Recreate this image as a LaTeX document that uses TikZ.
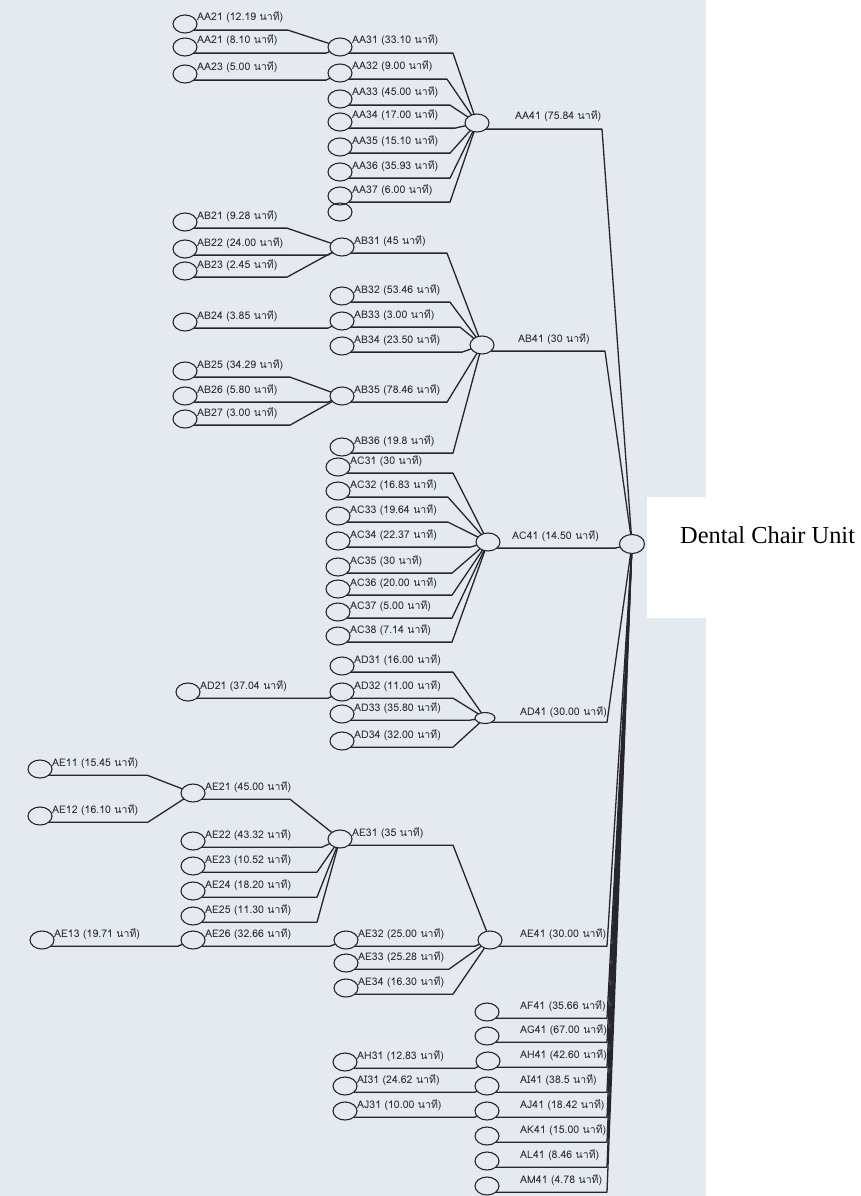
\documentclass[tikz,border=0pt]{standalone}
\usepackage{fontspec}
\setmainfont{Liberation Serif}
\newfontfamily\thaifont[Script=Thai]{Loma}
\usetikzlibrary{shapes.geometric,calc}
\definecolor{scan}{RGB}{229,233,240}
\definecolor{ink}{RGB}{38,38,44}

\tikzset{
  joint/.style={ellipse, draw=ink, line width=1.1pt, minimum width=24pt,
    minimum height=18pt, inner sep=0pt, outer sep=0pt},
  tag/.style={anchor=base west, inner sep=0pt, text=ink,
    font=\thaifont\fontsize{10.5}{11}\selectfont},
  link/.style={draw=ink, line width=1.3pt, line join=round},
}

% a sub-assembly: [caption offset], name, x, y, caption
\newcommand\jnode[5][12]{%
  \node[joint] (#2) at (#3,#4) {};
  \node[tag] (#2-t) at ({#3+#1},{#4-3}) {#5};}
% its connector: leaves the joint, runs under the caption to x = #2, then to the parent
\newcommand\jlink[3]{%
  \draw[link] let \p1=(#1.-35) in (\p1) -- (#2pt,\y1) -- (#3);}

\begin{document}
\begin{tikzpicture}[x=1pt,y=-1pt]
\useasboundingbox (0,0) rectangle (861,1196);
\fill[white] (0,0) rectangle (861,1196);
\fill[scan] (0,0) rectangle (706,1196);
\fill[white] (647,497) rectangle (861,618);

% final assembly
\node[joint, minimum width=25pt, minimum height=19pt] (dcu) at (632,544) {};
\node[anchor=base west, inner sep=0pt, font=\fontsize{24.4}{26}\selectfont]
  (dcu-t) at (680,543) {Dental Chair Unit};

% ---- AA branch
\jnode{aa21}{185}{24}{AA21 (12.19 นาที)}
\jnode{aa22}{185}{47}{AA21 (8.10 นาที)}
\jnode{aa23}{185}{74}{AA23 (5.00 นาที)}
\jnode{aa31}{340}{47}{AA31 (33.10 นาที)}
\jnode{aa32}{340}{73}{AA32 (9.00 นาที)}
\jnode{aa33}{340}{99}{AA33 (45.00 นาที)}
\jnode{aa34}{340}{122}{AA34 (17.00 นาที)}
\jnode{aa35}{340}{147}{AA35 (15.10 นาที)}
\jnode{aa36}{340}{172}{AA36 (35.93 นาที)}
\jnode{aa37}{340}{196}{AA37 (6.00 นาที)}
\node[joint] (aa38) at (340,212) {};
\jnode[38]{aa41}{477}{123}{AA41 (75.84 นาที)}

% ---- AB branch
\jnode{ab21}{185}{222}{AB21 (9.28 นาที)}
\jnode{ab22}{185}{249}{AB22 (24.00 นาที)}
\jnode{ab23}{185}{271}{AB23 (2.45 นาที)}
\jnode{ab24}{185}{322}{AB24 (3.85 นาที)}
\jnode{ab25}{185}{371}{AB25 (34.29 นาที)}
\jnode{ab26}{185}{396}{AB26 (5.80 นาที)}
\jnode{ab27}{185}{419}{AB27 (3.00 นาที)}
\jnode{ab31}{342}{247}{AB31 (45 นาที)}
\jnode{ab32}{342}{296}{AB32 (53.46 นาที)}
\jnode{ab33}{342}{321}{AB33 (3.00 นาที)}
\jnode{ab34}{342}{346}{AB34 (23.50 นาที)}
\jnode{ab35}{342}{396}{AB35 (78.46 นาที)}
\jnode{ab36}{342}{447}{AB36 (19.8 นาที)}
\jnode[36]{ab41}{482}{345}{AB41 (30 นาที)}

% ---- AC branch
\jnode{ac31}{338}{467}{AC31 (30 นาที)}
\jnode{ac32}{338}{491}{AC32 (16.83 นาที)}
\jnode{ac33}{338}{516}{AC33 (19.64 นาที)}
\jnode{ac34}{338}{541}{AC34 (22.37 นาที)}
\jnode{ac35}{338}{567}{AC35 (30 นาที)}
\jnode{ac36}{338}{589}{AC36 (20.00 นาที)}
\jnode{ac37}{338}{612}{AC37 (5.00 นาที)}
\jnode{ac38}{338}{636}{AC38 (7.14 นาที)}
\jnode[24]{ac41}{488}{542}{AC41 (14.50 นาที)}

% ---- AD branch
\jnode{ad21}{188}{692}{AD21 (37.04 นาที)}
\jnode{ad31}{342}{666}{AD31 (16.00 นาที)}
\jnode{ad32}{342}{692}{AD32 (11.00 นาที)}
\jnode{ad33}{342}{714}{AD33 (35.80 นาที)}
\jnode{ad34}{342}{741}{AD34 (32.00 นาที)}
\node[joint, minimum width=20pt, minimum height=11pt] (ad41) at (485,718) {};
\node[tag] (ad41-t) at (520,715) {AD41 (30.00 นาที)};

% ---- AE branch
\jnode{ae11}{40}{769}{AE11 (15.45 นาที)}
\jnode{ae12}{40}{816}{AE12 (16.10 นาที)}
\jnode{ae13}{42}{940}{AE13 (19.71 นาที)}
\jnode{ae21}{193}{793}{AE21 (45.00 นาที)}
\jnode{ae22}{193}{841}{AE22 (43.32 นาที)}
\jnode{ae23}{193}{866}{AE23 (10.52 นาที)}
\jnode{ae24}{193}{891}{AE24 (18.20 นาที)}
\jnode{ae25}{193}{916}{AE25 (11.30 นาที)}
\jnode{ae26}{193}{940}{AE26 (32.66 นาที)}
\jnode{ae31}{340}{839}{AE31 (35 นาที)}
\jnode{ae32}{346}{940}{AE32 (25.00 นาที)}
\jnode{ae33}{346}{963}{AE33 (25.28 นาที)}
\jnode{ae34}{346}{988}{AE34 (16.30 นาที)}
\jnode[30]{ae41}{490}{940}{AE41 (30.00 นาที)}

% ---- single parts AF .. AM
\jnode{ah31}{345}{1062}{AH31 (12.83 นาที)}
\jnode{ai31}{345}{1086}{AI31 (24.62 นาที)}
\jnode{aj31}{345}{1111}{AJ31 (10.00 นาที)}
\jnode[33]{af41}{487}{1012}{AF41 (35.66 นาที)}
\jnode[33]{ag41}{487}{1036}{AG41 (67.00 นาที)}
\jnode[32]{ah41}{488}{1061}{AH41 (42.60 นาที)}
\jnode[33]{ai41}{487}{1086}{AI41 (38.5 นาที)}
\jnode[33]{aj41}{487}{1111}{AJ41 (18.42 นาที)}
\jnode[33]{ak41}{487}{1136}{AK41 (15.00 นาที)}
\jnode[33]{al41}{487}{1161}{AL41 (8.46 นาที)}
\jnode[33]{am41}{487}{1186}{AM41 (4.78 นาที)}

% ---- connectors
\jlink{aa21}{288}{aa31} \jlink{aa22}{326}{aa31} \jlink{aa23}{326}{aa32}
\jlink{aa31}{453}{aa41} \jlink{aa32}{447}{aa41} \jlink{aa33}{450}{aa41}
\jlink{aa34}{455}{aa41} \jlink{aa35}{450}{aa41} \jlink{aa36}{450}{aa41}
\jlink{aa37}{450}{aa41} \jlink{aa41}{602}{dcu}

\jlink{ab21}{287}{ab31} \jlink{ab22}{328}{ab31} \jlink{ab23}{287}{ab31}
\jlink{ab24}{328}{ab33}
\jlink{ab25}{290}{ab35} \jlink{ab26}{328}{ab35} \jlink{ab27}{290}{ab35}
\jlink{ab31}{447}{ab41} \jlink{ab32}{450}{ab41} \jlink{ab33}{460}{ab41}
\jlink{ab34}{462}{ab41} \jlink{ab35}{447}{ab41} \jlink{ab36}{453}{ab41}
\jlink{ab41}{605}{dcu}

\jlink{ac31}{453}{ac41} \jlink{ac32}{448}{ac41} \jlink{ac33}{448}{ac41}
\jlink{ac34}{470}{ac41} \jlink{ac35}{452}{ac41} \jlink{ac36}{452}{ac41}
\jlink{ac37}{452}{ac41} \jlink{ac38}{452}{ac41} \jlink{ac41}{615}{dcu}

\jlink{ad21}{328}{ad32}
\jlink{ad31}{453}{ad41} \jlink{ad32}{453}{ad41} \jlink{ad33}{470}{ad41}
\jlink{ad34}{453}{ad41} \jlink{ad41}{607}{dcu}

\jlink{ae11}{147}{ae21} \jlink{ae12}{148}{ae21}
\jlink{ae21}{290}{ae31} \jlink{ae22}{322}{ae31} \jlink{ae23}{317}{ae31}
\jlink{ae24}{317}{ae31} \jlink{ae25}{317}{ae31}
\jlink{ae13}{178}{ae26} \jlink{ae26}{330}{ae32}
\jlink{ae31}{453}{ae41} \jlink{ae32}{475}{ae41} \jlink{ae33}{449}{ae41}
\jlink{ae34}{453}{ae41} \jlink{ae41}{607}{dcu}

\jlink{ah31}{475}{ah41} \jlink{ai31}{475}{ai41} \jlink{aj31}{475}{aj41}
\jlink{af41}{607}{dcu} \jlink{ag41}{607}{dcu} \jlink{ah41}{607}{dcu}
\jlink{ai41}{607}{dcu} \jlink{aj41}{607}{dcu} \jlink{ak41}{607}{dcu}
\jlink{al41}{607}{dcu} \jlink{am41}{607}{dcu}
\end{tikzpicture}
\end{document}
